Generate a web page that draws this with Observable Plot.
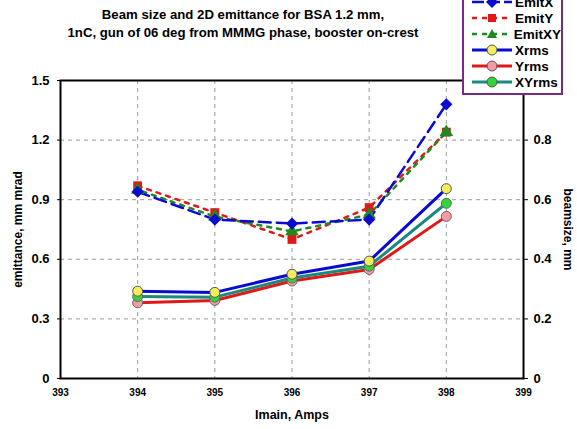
<!DOCTYPE html>
<html>
<head>
<meta charset="utf-8">
<script src="https://cdn.jsdelivr.net/npm/d3@7"></script>
<script src="https://cdn.jsdelivr.net/npm/@observablehq/plot@0.6"></script>
<style>
  html, body { margin: 0; padding: 0; background: #fff; }
  body { width: 577px; height: 429px; position: relative; overflow: hidden;
         font-family: "Liberation Sans", Arial, Helvetica, sans-serif; font-weight: bold; }
  #title { position: absolute; left: 0; top: 6px; width: 486px; text-align: center;
           font-size: 13.2px; line-height: 18px; color: #000; }
  #chart { position: absolute; left: 0; top: 48px; }
  #legend { position: absolute; left: 462px; top: -10px; width: 97px; height: 99px;
            border: 2px solid #7a2a86; background: #fff; z-index: 5; padding-top: 2px; box-sizing: content-box; }
  .row { display: flex; align-items: center; height: 16px; padding-left: 8px; font-size: 13.5px; color: #000; }
  .row svg { margin-right: 3px; }
</style>
</head>
<body>
<div id="title">Beam size and 2D emittance for BSA 1.2 mm,<br>1nC, gun of 06 deg from MMMG phase, booster on-crest</div>
<div id="chart"></div>
<div id="legend"></div>
<script>
// ---- data ----
const current = [394, 395, 396, 397, 398];
const emitX  = [0.94, 0.80, 0.78, 0.80, 1.38];
const emitY  = [0.97, 0.835, 0.70, 0.86, 1.24];
const emitXY = [0.95, 0.815, 0.74, 0.825, 1.24];
const xrms   = [0.293, 0.289, 0.35, 0.394, 0.637];
const yrms   = [0.254, 0.262, 0.327, 0.366, 0.544];
const xyrms  = [0.275, 0.273, 0.337, 0.377, 0.588];
const xTicks = [393, 394, 395, 396, 397, 398, 399];
const leftTicks = [0, 0.3, 0.6, 0.9, 1.2, 1.5];
const rightTicks = [0, 0.2, 0.4, 0.6, 0.8];
const ratio = 1.5; // left axis max / right axis max (1.5 / 1.0)

const BLUE = "#0a0ad0", RED = "#e01818", GREEN = "#1f8a1f", TEAL = "#1a8a7e";

const rows = (name, vals, scale = 1) => current.map((x, i) => ({series: name, x, y: vals[i] * scale}));
const dX = rows("EmitX", emitX), dY = rows("EmitY", emitY), dXY = rows("EmitXY", emitXY);
const rX = rows("Xrms", xrms, ratio), rY = rows("Yrms", yrms, ratio), rXY = rows("XYrms", xyrms, ratio);

const chart = Plot.plot({
  width: 577, height: 381,
  marginLeft: 60, marginRight: 54, marginTop: 32, marginBottom: 51,
  x: {domain: [393, 399]},
  y: {domain: [0, 1.5]},
  style: {fontFamily: '"Liberation Sans", Arial, Helvetica, sans-serif', fontWeight: "bold", color: "#000", background: "transparent"},
  marks: [
    Plot.gridY(leftTicks, {stroke: "#9a9a9a", strokeOpacity: 1, strokeDasharray: "4,4", strokeWidth: 1}),
    Plot.gridX(current, {stroke: "#9a9a9a", strokeOpacity: 1, strokeDasharray: "4,4", strokeWidth: 1}),
    Plot.axisX(xTicks, {tickSize: 0, tickPadding: 10, fontSize: 10, label: null, tickFormat: d => String(d)}),
    Plot.axisY(leftTicks, {anchor: "left", tickSize: 3, tickPadding: 8, fontSize: 13, label: null, tickFormat: d => String(d)}),
    Plot.axisY(rightTicks.map(t => t * ratio), {anchor: "right", tickSize: 4, tickPadding: 6, fontSize: 13, label: null,
      tickFormat: d => String(+(d / ratio).toFixed(2))}),
    Plot.text(["emittance, mm mrad"], {frameAnchor: "left", dx: -42, rotate: -90, fontSize: 12, textAnchor: "middle"}),
    Plot.text(["beamsize, mm"], {frameAnchor: "right", dx: 44, rotate: 90, fontSize: 12, textAnchor: "middle"}),
    Plot.text(["Imain, Amps"], {frameAnchor: "bottom", dy: 40, fontSize: 12.5, textAnchor: "middle"}),
    // emittance
    Plot.line(dY, {x: "x", y: "y", stroke: RED, strokeWidth: 2.5, strokeDasharray: "4,6"}),
    Plot.line(dXY, {x: "x", y: "y", stroke: GREEN, strokeWidth: 2.5, strokeDasharray: "4,6", strokeDashoffset: 5}),
    Plot.line(dX, {x: "x", y: "y", stroke: BLUE, strokeWidth: 2.5, strokeDasharray: "12,6"}),
    Plot.dot(dY, {x: "x", y: "y", symbol: "square", r: 5, fill: RED, stroke: null}),
    Plot.dot(dXY, {x: "x", y: "y", symbol: "triangle", r: 5, fill: GREEN, stroke: null}),
    Plot.dot(dX, {x: "x", y: "y", symbol: "diamond2", r: 5.5, fill: BLUE, stroke: null}),
    // beam size
    Plot.line(rY, {x: "x", y: "y", stroke: RED, strokeWidth: 3}),
    Plot.line(rXY, {x: "x", y: "y", stroke: TEAL, strokeWidth: 3}),
    Plot.line(rX, {x: "x", y: "y", stroke: BLUE, strokeWidth: 3}),
    Plot.dot(rY, {x: "x", y: "y", r: 5, fill: "#f79aa6", stroke: "#666", strokeWidth: 1}),
    Plot.dot(rXY, {x: "x", y: "y", r: 5, fill: "#33d43a", stroke: "#666", strokeWidth: 1}),
    Plot.dot(rX, {x: "x", y: "y", r: 5, fill: "#f4ee5c", stroke: "#555", strokeWidth: 1}),
    Plot.frame({stroke: "#000", strokeWidth: 2})
  ]
});
document.getElementById("chart").appendChild(chart);

// ---- legend ----
const legendItems = [
  {name: "EmitX",  color: BLUE,  dash: "12,4", marker: "diamond"},
  {name: "EmitY",  color: RED,   dash: "5,5",  marker: "square"},
  {name: "EmitXY", color: GREEN, dash: "5,5",  marker: "triangle"},
  {name: "Xrms",   color: BLUE,  dash: null,   marker: "circle", fill: "#f4ee5c"},
  {name: "Yrms",   color: RED,   dash: null,   marker: "circle", fill: "#f79aa6"},
  {name: "XYrms",  color: TEAL,  dash: null,   marker: "circle", fill: "#33d43a"}
];
const leg = document.getElementById("legend");
for (const it of legendItems) {
  const row = document.createElement("div");
  row.className = "row";
  let m = "";
  if (it.marker === "diamond") m = `<path d="M20,2 L26,8 L20,14 L14,8Z" fill="${it.color}"/>`;
  else if (it.marker === "square") m = `<rect x="16" y="4" width="8" height="8" fill="${it.color}"/>`;
  else if (it.marker === "triangle") m = `<path d="M20,3 L25,12 L15,12Z" fill="${it.color}"/>`;
  else m = `<circle cx="20" cy="8" r="5" fill="${it.fill}" stroke="#555" stroke-width="1"/>`;
  row.innerHTML = `<svg width="40" height="16"><line x1="0" x2="40" y1="8" y2="8" stroke="${it.color}" stroke-width="${it.dash ? 2.5 : 3}" ${it.dash ? `stroke-dasharray="${it.dash}"` : ""}/>${m}</svg><span>${it.name}</span>`;
  leg.appendChild(row);
}
</script>
</body>
</html>
